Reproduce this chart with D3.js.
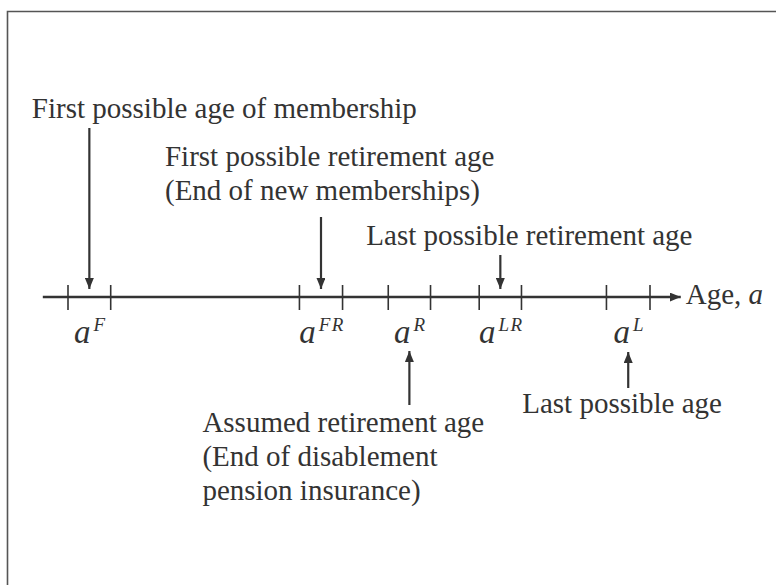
<!DOCTYPE html>
<html>
<head>
<meta charset="utf-8">
<script src="https://cdn.jsdelivr.net/npm/d3@7"></script>
<style>
  html, body { margin: 0; padding: 0; background: #fff; }
  svg { display: block; }
</style>
</head>
<body>
<div id="chart"></div>
<script>
// >-----------------< Data >-------------------<
// schematic age axis, one unit = one interval width
const markerKeys  = ["F", "FR", "R", "LR", "L"];
const markerStart = [0, 5.42, 7.5, 9.63, 12.61];
const markerEnd   = [1, 6.43, 8.49, 10.62, 13.63];
const axisDomain  = [-0.59, 14.35];
const axisLabel   = "Age, ";

const noteLines = [
  ["First possible age of membership"],
  ["First possible retirement age", "(End of new memberships)"],
  ["Assumed retirement age", "(End of disablement", "pension insurance)"],
  ["Last possible retirement age"],
  ["Last possible age"]
];
// which marker each note points at
const noteMarker = ["F", "FR", "R", "LR", "L"];

// >-----------------< Layout >-------------------<
const W = 776, H = 585;
const axisY = 297;
const ink = "#333";
const serif = "'Liberation Serif', 'Times New Roman', serif";
const fontSize = 29;
const lineGap = 34;

// text x offset from arrow, first baseline, arrow start / tip
const noteLayout = [
  { dx: -57.5, base: 118, from: 128, to: 289 },
  { dx: -156,  base: 166, from: 217, to: 289 },
  { dx: -207,  base: 432, from: 405, to: 351 },
  { dx: -134,  base: 245, from: 255, to: 289 },
  { dx: -106,  base: 413, from: 388, to: 352 }
];

// >-----------------< Draw >-------------------<
function drawChart() {
  const svg = d3.select("#chart")
    .append("svg")
    .attr("width", W)
    .attr("height", H);

  // frame
  svg.append("path")
    .attr("d", `M7.5,${H + 2}V11.5H${W + 2}`)
    .attr("fill", "none")
    .attr("stroke", "#555")
    .attr("stroke-width", 1.6);

  const defs = svg.append("defs");
  defs.append("marker")
    .attr("id", "head")
    .attr("viewBox", "0 0 11 9")
    .attr("refX", 11)
    .attr("refY", 4.5)
    .attr("markerWidth", 11)
    .attr("markerHeight", 9)
    .attr("markerUnits", "userSpaceOnUse")
    .attr("orient", "auto")
    .append("path")
    .attr("d", "M0,0L11,4.5L0,9Z")
    .attr("fill", ink);

  const x = d3.scaleLinear()
    .domain([markerStart[0], markerEnd[markerEnd.length - 1]])
    .range([68, 650]);

  // axis line with arrow
  svg.append("line")
    .attr("x1", x(axisDomain[0]))
    .attr("x2", x(axisDomain[1]))
    .attr("y1", axisY)
    .attr("y2", axisY)
    .attr("stroke", ink)
    .attr("stroke-width", 2.4)
    .attr("marker-end", "url(#head)");

  const axisText = svg.append("text")
    .attr("x", x(axisDomain[1]) + 5)
    .attr("y", axisY + 7)
    .attr("font-family", serif)
    .attr("font-size", fontSize)
    .attr("fill", ink)
    .text(axisLabel);
  axisText.append("tspan")
    .attr("font-style", "italic")
    .text("a");

  // ticks
  const ticks = markerStart.concat(markerEnd);
  svg.selectAll(".tick")
    .data(ticks)
    .enter().append("line")
    .attr("class", "tick")
    .attr("x1", d => x(d))
    .attr("x2", d => x(d))
    .attr("y1", axisY - 12)
    .attr("y2", axisY + 13)
    .attr("stroke", ink)
    .attr("stroke-width", 1.6);

  // a^X labels
  const mid = markerKeys.map((k, i) => (markerStart[i] + markerEnd[i]) / 2);
  markerKeys.forEach((k, i) => {
    const t = svg.append("text")
      .attr("x", x(mid[i]) + 1)
      .attr("y", axisY + 46)
      .attr("text-anchor", "middle")
      .attr("font-family", serif)
      .attr("font-style", "italic")
      .attr("fill", ink);
    t.append("tspan")
      .attr("font-size", 33)
      .text("a");
    t.append("tspan")
      .attr("font-size", 19)
      .attr("letter-spacing", 1.5)
      .attr("dx", 3)
      .attr("dy", -12)
      .text(k);
  });

  // notes with arrows
  noteLines.forEach((lines, i) => {
    const idx = markerKeys.indexOf(noteMarker[i]);
    const ax = x(mid[idx]);
    const lay = noteLayout[i];

    svg.append("line")
      .attr("x1", ax)
      .attr("x2", ax)
      .attr("y1", lay.from)
      .attr("y2", lay.to)
      .attr("stroke", ink)
      .attr("stroke-width", 2.2)
      .attr("marker-end", "url(#head)");

    svg.selectAll(null)
      .data(lines)
      .enter().append("text")
      .attr("x", ax + lay.dx)
      .attr("y", (d, j) => lay.base + j * lineGap)
      .attr("font-family", serif)
      .attr("font-size", fontSize)
      .attr("fill", ink)
      .text(d => d);
  });
}

document.addEventListener('DOMContentLoaded', drawChart);
</script>
</body>
</html>
